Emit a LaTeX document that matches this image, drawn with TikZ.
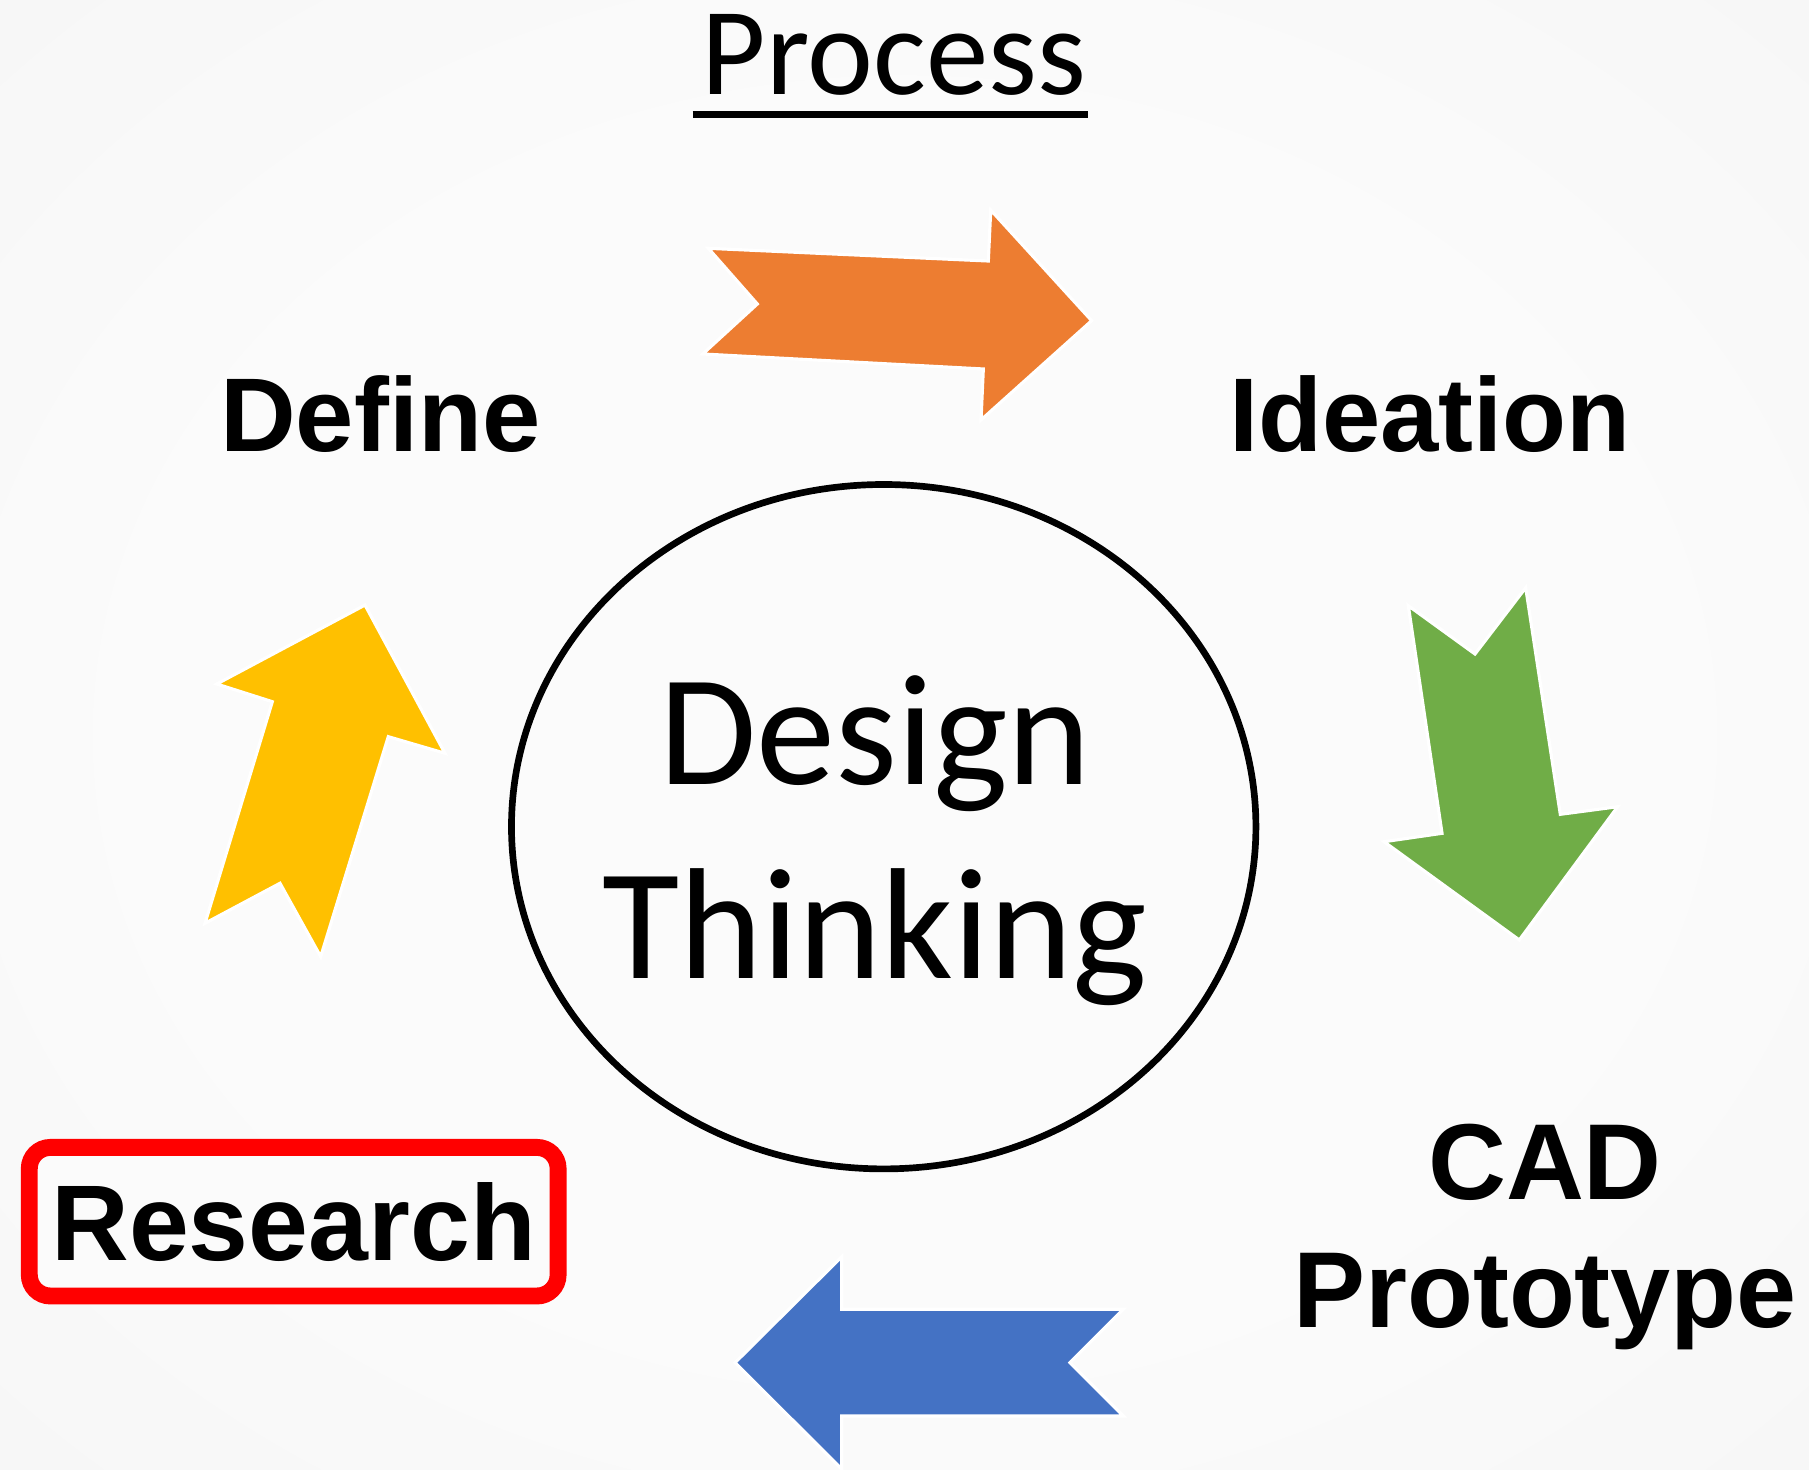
\documentclass[tikz,border=0pt]{standalone}
\usepackage{fontspec}
\setmainfont{Carlito}
\newfontfamily\roundfont{Liberation Sans}
\usepackage{tikz}
\usetikzlibrary{shapes.geometric,shadows}
\definecolor{bgin}{rgb}{0.985,0.985,0.985}
\definecolor{bgout}{rgb}{0.93,0.93,0.93}
\definecolor{officeorange}{rgb}{0.929,0.490,0.192}
\definecolor{officegreen}{rgb}{0.439,0.678,0.278}
\definecolor{officegold}{rgb}{1.0,0.753,0.0}
\definecolor{officeblue}{rgb}{0.267,0.447,0.769}
\definecolor{boxred}{rgb}{1.0,0.0,0.0}
\pgfdeclareradialshading{bgglow}{\pgfpoint{0bp}{0bp}}{color(0bp)=(bgin); color(20bp)=(bgin); color(71bp)=(bgout)}

\begin{document}
\begin{tikzpicture}[x=0.01cm,y=-0.01cm,
  every node/.style={inner sep=0pt},
  hub/.style={ellipse,draw,line width=1.9pt,minimum width=7.44cm,minimum height=6.84cm},
  phase/.style={anchor=base,font=\roundfont\bfseries\fontsize{29.8pt}{36pt}\selectfont},
  redbox/.style={rectangle,draw=boxred,line width=4.8pt,rounded corners=6pt,fill=bgin,
    minimum width=5.285cm,minimum height=1.485cm,
    drop shadow={opacity=0.35,shadow xshift=0.4mm,shadow yshift=-0.7mm},
    font=\roundfont\bfseries\fontsize{30.6pt}{36pt}\selectfont},
  blockarrow/.style={draw=white,line width=0.9pt,line join=miter}]

  \useasboundingbox (0,0) rectangle (1809,1470);
  \shade[shading=bgglow] (0,0) rectangle (1809,1470);

  % title
  \node[anchor=base,font=\fontsize{35.5pt}{40pt}\selectfont] (title) at (894,95) {Process};
  \draw[line width=2.1pt] (692.7,114.7) -- (1088.3,114.7);

  % centre
  \node[hub] (hub) at (883.7,826.7) {};
  \node[anchor=base,align=center,font=\fontsize{45pt}{55.1pt}\selectfont] (dt) at (875,978) {Design\\Thinking};

  % phases
  \node[phase] (define) at (380.4,452) {Define};
  \node[phase] (ideation) at (1430,452) {Ideation};
  \node[phase,align=center,font=\roundfont\bfseries\fontsize{30.7pt}{36.5pt}\selectfont] (cad) at (1545,1327.7) {CAD\\Prototype};
  \node[redbox] (research) at (293.7,1221.7) {Research};

  % arrows
  \fill[officeorange,blockarrow] (708.3,248.3) -- (988.3,261) -- (990.7,210) -- (1091.7,320.7)
    -- (981,420) -- (983.3,369) -- (702.7,354) -- (757.3,304) -- cycle;
  \fill[officegreen,blockarrow] (1408.3,605.7) -- (1475,654) -- (1525.7,587.7) -- (1560.3,814.3)
    -- (1617.7,806.7) -- (1519.3,940) -- (1384,841.7) -- (1442,833.3) -- cycle;
  \fill[officeblue,blockarrow] (735,1362.7) -- (841.7,1256.7) -- (841.7,1309.3) -- (1123.3,1309.3)
    -- (1070,1362.7) -- (1123.3,1416) -- (841.7,1416) -- (841.7,1469) -- cycle;
  \fill[officegold,blockarrow] (365,605) -- (445,753.3) -- (388.3,736.7) -- (320.7,956.7)
    -- (280,883.3) -- (205,923.3) -- (272.3,701.7) -- (216.7,684) -- cycle;
\end{tikzpicture}
\end{document}
